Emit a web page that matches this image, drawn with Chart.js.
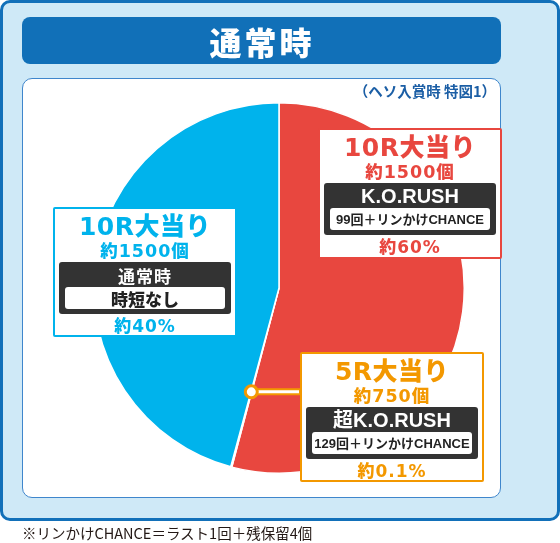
<!DOCTYPE html>
<html>
<head>
<meta charset="utf-8">
<script src="https://cdn.jsdelivr.net/npm/chart.js"></script>
<style>
  body { margin: 0; width: 560px; height: 543px; position: relative; overflow: hidden; background: #fff;
         font-family: "Noto Sans CJK JP", "Noto Sans", sans-serif; }
  .abs { position: absolute; box-sizing: border-box; }
  .txt { position: absolute; white-space: nowrap; text-align: center; font-weight: 700; }
  .lat { font-family: "Liberation Sans", "Noto Sans CJK JP", sans-serif; }
  .dv { font-family: "DejaVu Sans", "Noto Sans CJK JP", sans-serif; }
  #frame { left: 0; top: 0; width: 560px; height: 521px; background: #cfe9f7; border: 3px solid #1270b9; border-radius: 10px; }
  #titlebar { left: 22px; top: 17px; width: 479px; height: 47px; background: #1170b8; border-radius: 8px; }
  #panel { left: 22px; top: 78px; width: 479px; height: 420px; background: #fff; border: 1px solid #3f86cc; border-radius: 10px; }
  #chart { position: absolute; left: 0; top: 0; }
</style>
</head>
<body>
<div class="abs" id="frame"></div>
<div class="abs" id="titlebar"></div>
<div class="abs" id="panel"></div>
<canvas id="chart" width="560" height="543"></canvas>

<script>
// values (slice angles as drawn, labels as printed)
const categories = ['10R大当り', '5R大当り', '10R大当り'];
const sliceShares = [54.1, 0.1, 45.8];
const ballCounts = ['約1500個', '約750個', '約1500個'];
const modeNames = ['K.O.RUSH', '超K.O.RUSH', '通常時'];
const modeNotes = ['99回＋リンかけCHANCE', '129回＋リンかけCHANCE', '時短なし'];
const percentLabels = ['約60%', '約0.1%', '約40%'];

const sliceColors = ['#e8473f', '#f39800', '#00b3ec'];

// label box layout: [left, top, width, height]
const boxes = [
  [318, 128, 184, 131],
  [300, 352, 184, 130],
  [53, 207, 184, 130]
];

function addText(str, cx, cy, size, color, weight, cls) {
  const d = document.createElement('div');
  d.className = 'txt' + (cls ? ' ' + cls : '');
  d.textContent = str;
  d.style.left = (cx - 150) + 'px';
  d.style.width = '300px';
  d.style.top = (cy - size / 2) + 'px';
  d.style.lineHeight = size + 'px';
  d.style.fontSize = size + 'px';
  d.style.color = color;
  if (weight) d.style.fontWeight = weight;
  document.body.appendChild(d);
  return d;
}

function addRect(x, y, w, h, css) {
  const d = document.createElement('div');
  d.className = 'abs';
  d.style.left = x + 'px'; d.style.top = y + 'px';
  d.style.width = w + 'px'; d.style.height = h + 'px';
  Object.assign(d.style, css);
  document.body.appendChild(d);
  return d;
}

// header texts
const t = addText('通常時', 262, 41, 32, '#fff', 900);
t.style.letterSpacing = '3px';
const sub = addText('（ヘソ入賞時 特図1）', 0, 91, 14.5, '#1b5ea5');
sub.style.left = 'auto'; sub.style.right = '64px'; sub.style.width = 'auto';
const foot = addText('※リンかけCHANCE＝ラスト1回＋残保留4個', 0, 533, 14.5, '#231815', 400);
foot.style.left = '22px'; foot.style.width = 'auto'; foot.style.textAlign = 'left';

// leader from the tiny slice to its label box
const leaderPlugin = {
  id: 'leader',
  afterDraw(chart) {
    const arc = chart.getDatasetMeta(0).data[1];
    const p = arc.getProps(['x', 'y', 'startAngle', 'endAngle', 'outerRadius'], true);
    const a = (p.startAngle + p.endAngle) / 2;
    const dx = p.x + Math.cos(a) * p.outerRadius * 0.58;
    const dy = p.y + Math.sin(a) * p.outerRadius * 0.58;
    const ctx = chart.ctx;
    ctx.save();
    ctx.lineCap = 'butt';
    ctx.strokeStyle = sliceColors[1];
    ctx.lineWidth = 7;
    ctx.beginPath(); ctx.moveTo(dx, dy); ctx.lineTo(boxes[1][0] + 1, dy); ctx.stroke();
    ctx.strokeStyle = '#fff';
    ctx.lineWidth = 3;
    ctx.beginPath(); ctx.moveTo(dx, dy); ctx.lineTo(boxes[1][0] - 1, dy); ctx.stroke();
    ctx.beginPath();
    ctx.arc(dx, dy, 6, 0, Math.PI * 2);
    ctx.fillStyle = '#fff';
    ctx.fill();
    ctx.lineWidth = 3;
    ctx.strokeStyle = sliceColors[1];
    ctx.stroke();
    ctx.restore();
  }
};

new Chart(document.getElementById('chart'), {
  type: 'pie',
  data: {
    labels: categories,
    datasets: [{
      data: sliceShares,
      backgroundColor: sliceColors,
      borderColor: '#fff',
      borderWidth: 1.5
    }]
  },
  options: {
    responsive: false,
    animation: false,
    layout: { padding: { left: 93, right: 95, top: 102, bottom: 69 } },
    plugins: { legend: { display: false }, tooltip: { enabled: false } }
  },
  plugins: [leaderPlugin]
});

// label boxes
boxes.forEach((b, i) => {
  const [x, y, w, h] = b;
  const col = sliceColors[i];
  const cx = x + w / 2;
  const isNormal = i === 2;
  addRect(x, y, w, h, { background: '#fff', border: '2px solid ' + col, borderRadius: '2px' });
  const title = addText(categories[i], cx, y + 19, 25, col, 900, 'dv');
  title.style.letterSpacing = '0.5px';
  const balls = addText(ballCounts[i], cx, y + 45, 17.5, col, 900, 'dv');
  balls.style.letterSpacing = '1px';
  addRect(x + 6, y + 55, w - 12, 52, { background: '#333', borderRadius: '3px' });
  const mode = addText(modeNames[i], cx, y + 68, isNormal ? 17 : 20, '#fff', 700, isNormal ? '' : 'lat');
  if (isNormal) mode.style.letterSpacing = '1px';
  addRect(x + 12, y + 80, w - 24, 22, { background: '#fff', borderRadius: '3px' });
  addText(modeNotes[i], cx, y + 91, isNormal ? 17 : 13, '#222', isNormal ? 900 : 700, isNormal ? '' : 'lat');
  const pct = addText(percentLabels[i], cx, y + 119, 17, col, 900, 'dv');
  pct.style.letterSpacing = '1px';
});
</script>
</body>
</html>
